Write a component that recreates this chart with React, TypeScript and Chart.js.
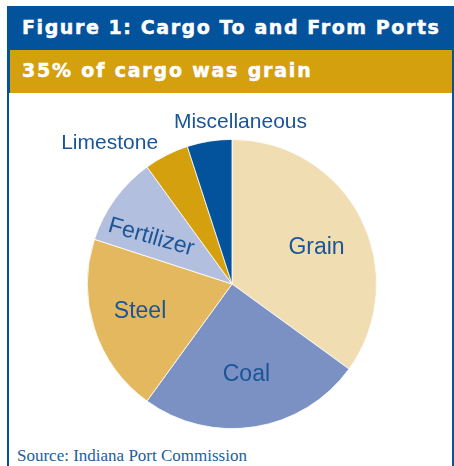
import React, { useEffect, useRef } from "react";
import { Chart, registerables } from "chart.js";

Chart.register(...registerables);

const categories = ["Grain", "Coal", "Steel", "Fertilizer", "Limestone", "Miscellaneous"];
const shares = [35, 25, 20, 10, 5, 5];
const sliceColors = ["#f0ddb1", "#7b91c4", "#e3b85e", "#b3bfdf", "#d4a00e", "#03529c"];

const titleText = "Figure 1: Cargo To and From Ports";
const subtitleText = "35% of cargo was grain";
const sourceText = "Source: Indiana Port Commission";

// label placement (style): radius factor, angle shift in degrees, rotation, font size
const labelRadius = [0.635, 0.636, 0.665, 0.645, 1.29, 1.12];
const labelShift = [4, 0, 1, -6, -14, 12];
const labelRotate = [0, 0, 0, 16, 0, 0];
const labelSize = [23, 23, 23, 23, 21, 21];

const BLUE = "#03529c";
const GOLD = "#d4a00e";
const TEXT_BLUE = "#1b5597";

const labelPlugin = {
  id: "sliceLabels",
  afterDatasetsDraw(chart: any) {
    const ctx = chart.ctx;
    const meta = chart.getDatasetMeta(0);
    meta.data.forEach((arc: any, i: number) => {
      const p = arc.getProps(["x", "y", "startAngle", "endAngle", "outerRadius"], true);
      const mid = (p.startAngle + p.endAngle) / 2 + (labelShift[i] * Math.PI) / 180;
      const r = p.outerRadius * labelRadius[i];
      const lx = p.x + Math.cos(mid) * r;
      const ly = p.y + Math.sin(mid) * r;
      ctx.save();
      ctx.translate(lx, ly);
      ctx.rotate((labelRotate[i] * Math.PI) / 180);
      ctx.font = `${labelSize[i]}px "Liberation Sans", Arial, sans-serif`;
      ctx.fillStyle = TEXT_BLUE;
      ctx.textAlign = "center";
      ctx.textBaseline = "middle";
      ctx.fillText(chart.data.labels[i], 0, 0);
      ctx.restore();
    });
  },
};

export default function App() {
  const canvasRef = useRef<HTMLCanvasElement | null>(null);

  useEffect(() => {
    if (!canvasRef.current) return;
    const chart = new Chart(canvasRef.current, {
      type: "pie",
      data: {
        labels: categories,
        datasets: [
          {
            data: shares,
            backgroundColor: sliceColors,
            borderColor: "#ffffff",
            borderWidth: 0.8,
          },
        ],
      },
      options: {
        responsive: false,
        animation: false,
        events: [],
        layout: { padding: { left: 87, right: 77, top: 139, bottom: 37 } },
        plugins: {
          legend: { display: false },
          tooltip: { enabled: false },
          title: { display: false },
        },
      },
      plugins: [labelPlugin],
    });
    return () => chart.destroy();
  }, []);

  const headFont = '"DejaVu Sans", Verdana, sans-serif';

  return (
    <div style={{ position: "fixed", left: 0, top: 0, width: 454, height: 466, background: "#ffffff", overflow: "hidden" }}>
      <div style={{ position: "absolute", left: 7, top: 6, width: 447, height: 470, background: BLUE }} />
      <div style={{ position: "absolute", left: 9, top: 93, width: 443, height: 380, background: "#ffffff" }} />
      <div style={{ position: "absolute", left: 10, top: 50, width: 442, height: 43, background: GOLD }} />
      <div
        style={{
          position: "absolute",
          left: 22,
          top: 13,
          fontFamily: headFont,
          fontWeight: "bold",
          fontSize: 19,
          letterSpacing: 1.58,
          lineHeight: "28px",
          color: "#ffffff",
          WebkitTextStroke: "0.5px #ffffff",
          whiteSpace: "nowrap",
        }}
      >
        {titleText}
      </div>
      <div
        style={{
          position: "absolute",
          left: 22,
          top: 56,
          fontFamily: headFont,
          fontWeight: "bold",
          fontSize: 19,
          letterSpacing: 1.8,
          lineHeight: "28px",
          color: "#ffffff",
          WebkitTextStroke: "0.5px #ffffff",
          whiteSpace: "nowrap",
        }}
      >
        {subtitleText}
      </div>
      <div
        style={{
          position: "absolute",
          left: 17,
          top: 446,
          fontFamily: '"Liberation Serif", "Times New Roman", serif',
          fontSize: 17,
          lineHeight: "20px",
          color: "#225e9a",
          whiteSpace: "nowrap",
        }}
      >
        {sourceText}
      </div>
      <canvas
        ref={canvasRef}
        width={454}
        height={466}
        style={{ position: "absolute", left: 0, top: 0, width: 454, height: 466 }}
      />
    </div>
  );
}
